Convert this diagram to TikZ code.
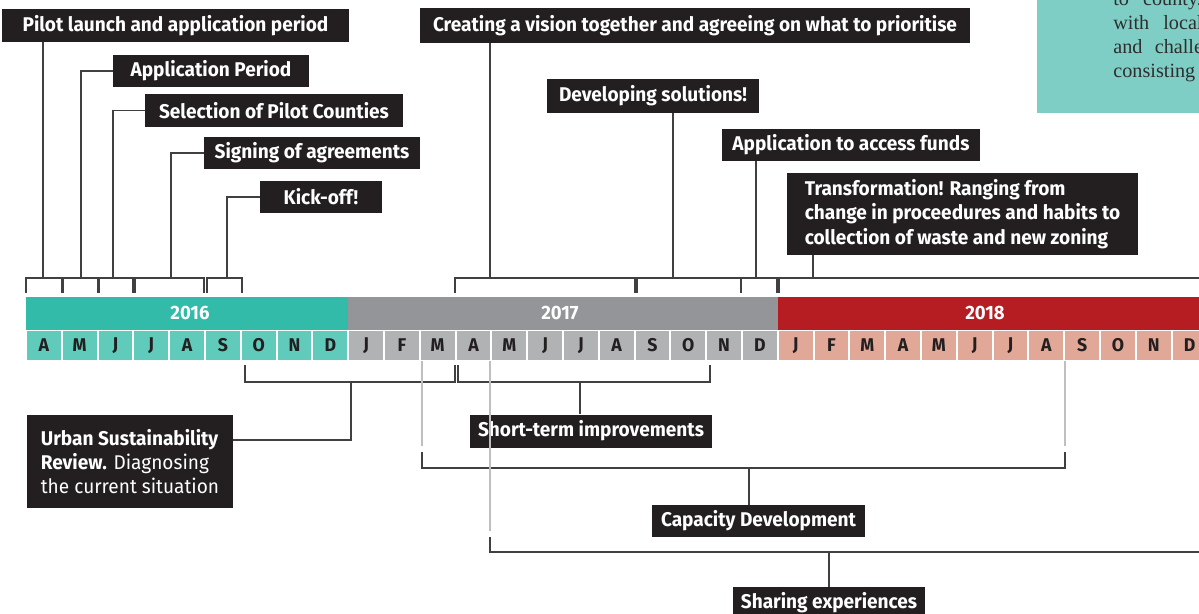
\documentclass[tikz,border=0pt]{standalone}
\usepackage{fontspec}
\setmainfont{Fira Sans}[FakeStretch=0.96]
\newfontfamily\bodyserif{Liberation Serif}

\definecolor{boxblack}{HTML}{231F20}
\definecolor{tealyear}{HTML}{33BBA9}
\definecolor{tealmonth}{HTML}{60CBBA}
\definecolor{grayyear}{HTML}{939598}
\definecolor{graymonth}{HTML}{B1B2B4}
\definecolor{redyear}{HTML}{B51D22}
\definecolor{redmonth}{HTML}{E1A898}
\definecolor{tealnote}{HTML}{7ECEC6}
\definecolor{notetext}{HTML}{2E2E2E}

\begin{document}
\begin{tikzpicture}[
		x=0.02cm,
		y=-0.02cm,
		lbl/.style={fill=boxblack, text=white, inner sep=0pt, align=left,
			font=\fontsize{11.3}{13.9}\selectfont\bfseries},
		bx/.style 2 args={lbl, minimum width=#1*0.02cm, minimum height=#2*0.02cm},
		month/.style={minimum width=33.8*0.02cm, minimum height=29.5*0.02cm,
			inner sep=0pt, text=boxblack, font=\fontsize{10.5}{11}\selectfont\bfseries},
		yr/.style={text=white, font=\fontsize{11}{12}\selectfont\bfseries},
		brk/.style={black!75, line width=0.7pt},
		guide/.style={black!25, line width=0.8pt},
		note/.style={anchor=base west, text=notetext, inner sep=0pt,
			font=\bodyserif\fontsize{11.5}{13.6}\selectfont}
	]

		\useasboundingbox (0,0) rectangle (1199,613);
		\clip (0,0) rectangle (1199,613);

		% Note box, top right
		\fill[tealnote] (1037,-2) rectangle (1205,113);
		\node[note] (n1) at (1113,5) {to\hspace{8pt}county.};
		\node[note] (n2) at (1113,29) {with\hspace{8pt}local};
		\node[note] (n3) at (1113,53) {and\hspace{7pt}challenges};
		\node[note] (n4) at (1113,77) {consisting};

		% Years
		\fill[tealyear] (26,297) rectangle (348.2,329.5);
		\fill[grayyear] (348.2,297) rectangle (777.8,329.5);
		\fill[redyear] (777.8,297) rectangle (1210,329.5);
		\node[yr] (y16) at (190,313) {2016};
		\node[yr] (y17) at (560,313) {2017};
		\node[yr] (y18) at (985,313) {2018};

		% Months
		\foreach \m [count=\i from 0] in {A,M,J,J,A,S,O,N,D}
			\node[month, fill=tealmonth] (m\i) at ({26+(\i+0.5)*35.8},345.25) {\m};
		\foreach \m [count=\i from 9] in {J,F,M,A,M,J,J,A,S,O,N,D}
			\node[month, fill=graymonth] (m\i) at ({26+(\i+0.5)*35.8},345.25) {\m};
		\foreach \m [count=\i from 21] in {J,F,M,A,M,J,J,A,S,O,N,D}
			\node[month, fill=redmonth] (m\i) at ({26+(\i+0.5)*35.8},345.25) {\m};

		% Labels above
		\node[bx={347}{33}] (pilot) at (175.5,25.5) {Pilot launch and application period};
		\node[bx={196}{32}] (appl) at (211,71) {Application Period};
		\node[bx={258}{33}] (select) at (274,110.5) {Selection of Pilot Counties};
		\node[bx={216}{32}] (sign) at (312,153) {Signing of agreements};
		\node[bx={122}{32}] (kick) at (321,197) {Kick-off!};
		\node[bx={550}{35}] (vision) at (695,25.5) {Creating a vision together and agreeing on what to prioritise};
		\node[bx={212}{34}] (devel) at (653,96) {Developing solutions!};
		\node[bx={258}{32}] (funds) at (851,145) {Application to access funds};
		\node[bx={351}{82}] (transf) at (962.5,214) {Transformation! Ranging from\\change in proceedures and habits to\\collection of waste and new zoning};

		% Labels below
		\node[bx={206}{93}, font=\fontsize{11.3}{13.9}\selectfont] (urban) at (130,461.5)
			{\textbf{Urban Sustainability}\\\textbf{Review.} Diagnosing\\the current situation};
		\node[bx={242}{33}] (short) at (591,431) {Short-term improvements};
		\node[bx={213}{32}] (capac) at (758.5,521) {Capacity Development};
		\node[bx={192}{32}] (share) at (829,603) {Sharing experiences};

		% Brackets above the bar
		\foreach \a/\b in {26/62, 63/98, 99/133, 135/204, 207/242, 455/635, 637/777, 741/777, 779/1210}
			\draw[brk] (\a,293) |- (\b,278) -- (\b,293);

		% Brackets below the bar
		\foreach \a/\b in {245/455, 458/710}
			\draw[brk] (\a,365) |- (\b,382) -- (\b,365);
		\draw[guide] (422,361) -- (422,446);
		\draw[guide] (1065,361) -- (1065,446);
		\draw[brk] (422,452) |- (1065,468) -- (1065,452);
		\draw[guide] (490,361) -- (490,531);
		\draw[brk] (490,537) |- (1210,552);

		% Stems
		\coordinate (s1) at (43,278);
		\coordinate (s2) at (81,278);
		\coordinate (s3) at (113,278);
		\coordinate (s4) at (171,278);
		\coordinate (s5) at (227,278);
		\coordinate (s6) at (490,278);
		\coordinate (s7) at (673,278);
		\coordinate (s8) at (756,278);
		\coordinate (s9) at (813,278);
		\coordinate (s10) at (351,382);
		\coordinate (s11) at (580,382);
		\coordinate (s12) at (749,468);
		\coordinate (s13) at (829,552);
		\coordinate (u0) at (0,440);

		\draw[brk] (pilot.south -| s1) -- (s1);
		\draw[brk] (appl.west) -| (s2);
		\draw[brk] (select.west) -| (s3);
		\draw[brk] (sign.west) -| (s4);
		\draw[brk] (kick.west) -| (s5);
		\draw[brk] (vision.south -| s6) -- (s6);
		\draw[brk] (devel.south -| s7) -- (s7);
		\draw[brk] (funds.south -| s8) -- (s8);
		\draw[brk] (transf.south -| s9) -- (s9);
		\draw[brk] (urban.east |- u0) -| (s10);
		\draw[brk] (short.north -| s11) -- (s11);
		\draw[brk] (capac.north -| s12) -- (s12);
		\draw[brk] (share.north -| s13) -- (s13);
	\end{tikzpicture}
\end{document}
